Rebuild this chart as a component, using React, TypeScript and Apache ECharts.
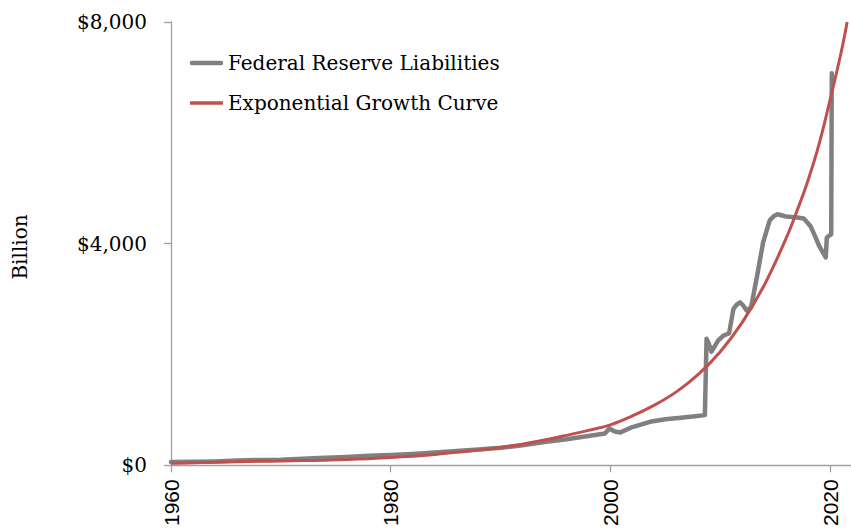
import React, { useEffect, useRef } from "react";
import * as echarts from "echarts";

const xTicks = [1960, 1980, 2000, 2020];
const yTicks = [0, 4000, 8000];

const fedYears = [
  1960, 1962, 1964, 1966, 1968, 1970, 1972, 1974, 1976, 1978, 1980, 1982, 1984, 1986, 1988,
  1990, 1992, 1994, 1996, 1998, 1999.5, 1999.9, 2000.4, 2000.9, 2002, 2003.6, 2005, 2006.4,
  2007.5, 2008.6, 2008.75, 2008.95, 2009.2, 2009.8, 2010.3, 2010.8, 2011.2, 2011.5, 2011.8,
  2012.1, 2012.4, 2012.8, 2013.3, 2013.9, 2014.5, 2014.9, 2015.2, 2016, 2017, 2017.6, 2018.2,
  2018.6, 2019.0, 2019.6, 2019.7, 2020.1, 2020.15,
];
const fedValues = [
  60, 62, 70, 85, 95, 100, 120, 135, 150, 170, 185, 205, 230, 260, 285,
  318, 360, 420, 470, 530, 575, 665, 610, 593, 690, 785, 830, 857,
  880, 905, 2283, 2200, 2050, 2250, 2342, 2380, 2822, 2900, 2942,
  2880, 2792, 2850, 3361, 4021, 4420, 4500, 4530, 4490, 4470, 4452, 4320,
  4150, 3960, 3751, 4111, 4170, 7077,
];

const expYears = [
  1960, 1962, 1964, 1966, 1968, 1970, 1972, 1974, 1976, 1978, 1980, 1982, 1984, 1986, 1988,
  1990, 1992, 1994, 1996, 1998, 2000, 2002, 2004, 2006, 2008, 2010, 2012, 2014, 2016, 2017,
  2018, 2019, 2020, 2021, 2021.55,
];
const expValues = [
  35, 45, 55, 65, 72, 78, 85, 92, 105, 120, 140, 165, 195, 235, 275,
  320, 380, 455, 540, 630, 730, 890, 1085, 1325, 1640, 2050, 2580, 3250, 4100, 4600,
  5150, 5800, 6600, 7450, 8000,
];

const seriesNames = ["Federal Reserve Liabilities", "Exponential Growth Curve"];
const seriesColors = ["#808080", "#c0504d"];

export default function App() {
  const ref = useRef<HTMLDivElement>(null);
  useEffect(() => {
    if (!ref.current) return;
    const chart = echarts.init(ref.current, null, { renderer: "svg" });
    const axisColor = "#a0a0a0";
    const legendFont = { fontFamily: "DejaVu Serif", fontSize: 20, fill: "#000" };
    chart.setOption({
      animation: false,
      backgroundColor: "#ffffff",
      grid: { left: 171, right: 0, top: 22, bottom: 62 },
      xAxis: {
        type: "value",
        min: 1960,
        max: 2021.9,
        interval: 20,
        splitLine: { show: false },
        axisLine: { show: true, lineStyle: { color: axisColor, width: 1.3 } },
        axisTick: { show: true, length: 7, lineStyle: { color: axisColor, width: 1.3 }, customValues: xTicks },
        axisLabel: {
          rotate: 90,
          margin: 14,
          fontFamily: "Liberation Sans",
          fontSize: 21,
          color: "#000",
          customValues: xTicks,
          formatter: (v: number) => String(v),
        },
      },
      yAxis: {
        type: "value",
        min: 0,
        max: 8000,
        interval: 4000,
        splitLine: { show: false },
        axisLine: { show: true, lineStyle: { color: axisColor, width: 1.3 } },
        axisTick: { show: true, length: 7, lineStyle: { color: axisColor, width: 1.3 }, customValues: yTicks },
        axisLabel: {
          margin: 24,
          fontFamily: "DejaVu Serif",
          fontSize: 20,
          color: "#000",
          customValues: yTicks,
          formatter: (v: number) => "$" + v.toLocaleString("en-US"),
        },
      },
      graphic: [
        {
          type: "text",
          x: 20,
          y: 247,
          rotation: Math.PI / 2,
          style: {
            text: "Billion",
            ...legendFont,
            align: "center",
            verticalAlign: "middle",
          },
        },
        {
          type: "line",
          shape: { x1: 192, y1: 63, x2: 221, y2: 63 },
          style: { stroke: seriesColors[0], lineWidth: 4.5, lineCap: "round" },
        },
        {
          type: "text",
          x: 228,
          y: 63,
          style: { text: seriesNames[0], ...legendFont, align: "left", verticalAlign: "middle" },
        },
        {
          type: "line",
          shape: { x1: 190, y1: 103, x2: 223, y2: 103 },
          style: { stroke: seriesColors[1], lineWidth: 3.5 },
        },
        {
          type: "text",
          x: 228,
          y: 103,
          style: { text: seriesNames[1], ...legendFont, align: "left", verticalAlign: "middle" },
        },
      ],
      series: [
        {
          name: seriesNames[0],
          type: "line",
          showSymbol: false,
          symbol: "none",
          data: fedYears.map((y, i) => [y, fedValues[i]]),
          lineStyle: { color: seriesColors[0], width: 4.5, cap: "round", join: "round" },
          itemStyle: { color: seriesColors[0] },
        },
        {
          name: seriesNames[1],
          type: "line",
          showSymbol: false,
          symbol: "none",
          smooth: 0.4,
          data: expYears.map((y, i) => [y, expValues[i]]),
          lineStyle: { color: seriesColors[1], width: 3 },
          itemStyle: { color: seriesColors[1] },
        },
      ],
    });
    return () => chart.dispose();
  }, []);
  return (
    <div
      ref={ref}
      style={{ position: "fixed", left: 0, top: 0, width: 851, height: 529 }}
    />
  );
}
